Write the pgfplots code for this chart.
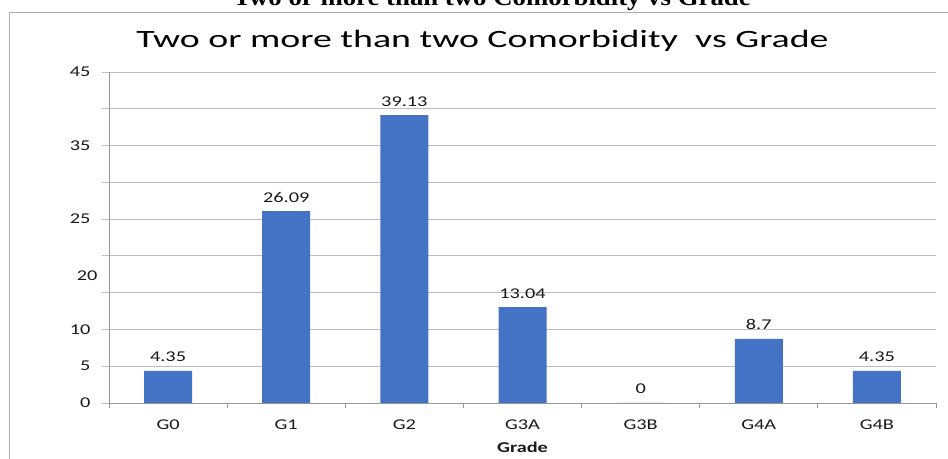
\documentclass[border=0pt]{standalone}
\usepackage{fontspec}
\usepackage{pgfplots}
\pgfplotsset{compat=1.18}
\setmainfont{Liberation Serif}
\newfontfamily\captionfont{Liberation Serif}[FakeStretch=1.12]
\newfontfamily\chartfont{Carlito}[FakeStretch=1.36]
\newfontfamily\charttitlefont{Carlito}[FakeStretch=1.52]
\definecolor{barblue}{HTML}{4472C4}
\definecolor{gridgray}{RGB}{190,190,190}
\definecolor{axisgray}{RGB}{150,150,150}
\definecolor{framegray}{RGB}{175,175,175}
\definecolor{labeltext}{RGB}{25,25,25}

\begin{document}
\begin{tikzpicture}[x=1bp,y=1bp]
\useasboundingbox (0,0) rectangle (948,459);
% document caption above the chart (runs off the top edge)
\node[anchor=base, font=\captionfont\bfseries\fontsize{24}{24}\selectfont] at (492,453)
  {Two or more than two Comorbidity vs Grade};
% chart area border
\draw[framegray, line width=0.8bp] (9,0) -- (9,447) -- (948,447);
% chart title
\node[anchor=base, font=\charttitlefont\fontsize{25}{25}\selectfont, text=black] at (482.5,411)
  {Two or more than two Comorbidity\ \ vs Grade};
\begin{axis}[
  at={(109bp,56bp)}, anchor=south west,
  width=827bp, height=331bp, scale only axis,
  xmin=-0.5, xmax=6.5, ymin=0, ymax=45,
  ybar, bar width=48bp,
  axis x line*=bottom, axis y line*=left,
  axis line style={draw=axisgray, line width=0.8bp, -},
  tick align=outside,
  major tick length=7bp, minor tick length=5bp,
  xtick={0,...,6},
  xticklabels={G0,G1,G2,G3A,G3B,G4A,G4B},
  minor xtick={-0.5,0.5,...,6.5},
  major x tick style={draw=none},
  minor x tick style={draw=axisgray, line width=0.8bp},
  ytick={0,5,...,45},
  yticklabels={0,5,10,,,25,,35,,45},
  extra y ticks={17.3},
  extra y tick labels={20},
  extra y tick style={grid=none, major tick length=0pt, tick style={draw=none}},
  ytick style={draw=gridgray, line width=0.8bp},
  ymajorgrids,
  major grid style={draw=gridgray, line width=0.8bp},
  tick label style={font=\chartfont\fontsize{15}{15}\selectfont, text=labeltext},
  xticklabel style={anchor=base, yshift=-20bp},
  yticklabel style={anchor=east, xshift=-8bp},
  point meta=explicit symbolic,
  nodes near coords,
  every node near coord/.append style={font=\chartfont\fontsize{15}{15}\selectfont,
    text=labeltext, anchor=base, yshift=9bp, inner sep=0pt},
  clip=false,
]
\addplot[fill=barblue, draw=none] coordinates {
  (0,4.35)  [4.35]
  (1,26.09) [26.09]
  (2,39.13) [39.13]
  (3,13.04) [13.04]
  (4,0)     [0]
  (5,8.7)   [8.7]
  (6,4.35)  [4.35]
};
\end{axis}
% horizontal axis title
\node[anchor=base, font=\chartfont\bfseries\fontsize{15}{15}\selectfont, text=labeltext] at (522.5,6) {Grade};
\end{tikzpicture}
\end{document}
